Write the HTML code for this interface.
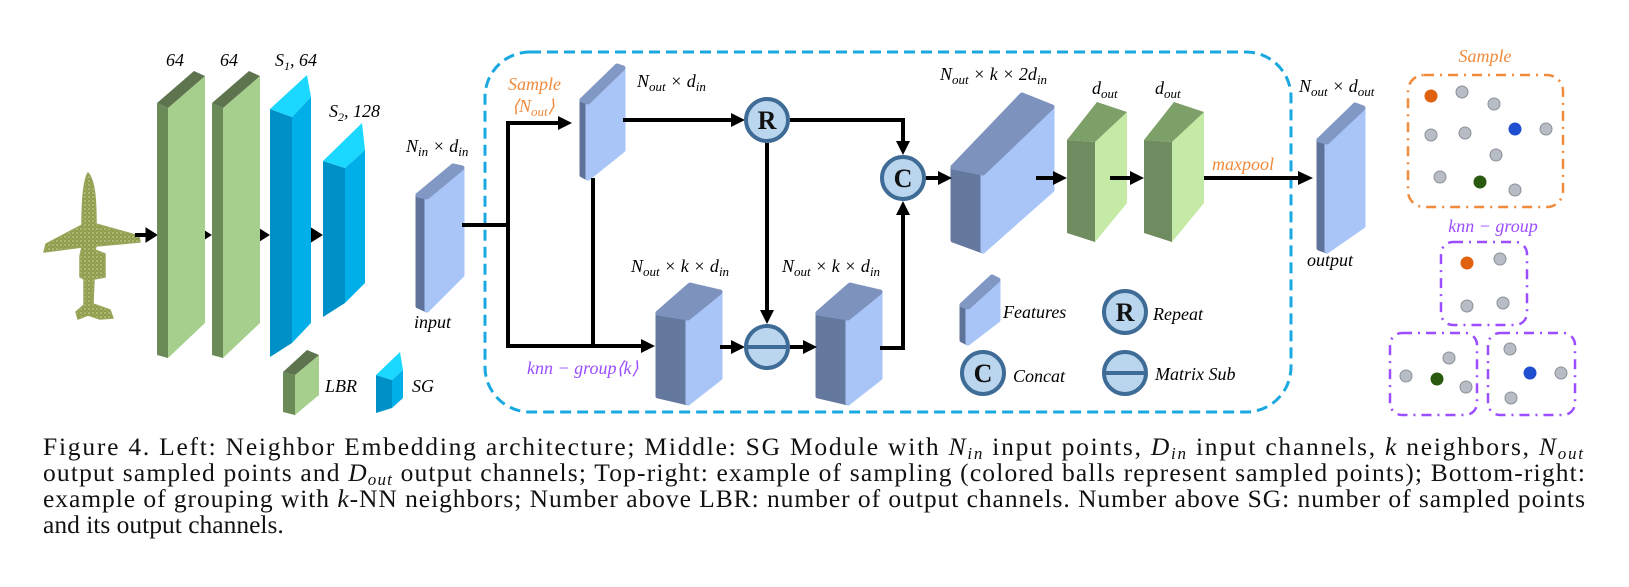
<!DOCTYPE html>
<html><head><meta charset="utf-8"><style>
html,body{margin:0;padding:0;background:#fff;}
svg{display:block;}
.m{font-family:"Liberation Serif",serif;font-style:italic;font-size:18px;fill:#000;}
.cap{font-family:"Liberation Serif",serif;font-size:25.5px;fill:#111;}
.ci{font-family:"Liberation Serif",serif;font-style:italic;}
</style></head><body>
<svg width="1629" height="587" viewBox="0 0 1629 587" xmlns="http://www.w3.org/2000/svg">
<defs>
<pattern id="dots" width="4" height="4" patternUnits="userSpaceOnUse">
<rect width="4" height="4" fill="#8e9c4c"/><circle cx="1" cy="1" r="0.9" fill="#c4cc94"/><circle cx="3" cy="3" r="0.6" fill="#b2bc7a"/>
</pattern>
</defs>

<g fill="url(#dots)" stroke="#9aa65c" stroke-width="1.5" stroke-linejoin="round">
<path d="M88,173 C84,180 82,195 82,225 L46,244 L44,252 L82,247 L80,256 L80,277 L84,279 L84,305 L76,312 L78,319 L88,315 L100,319 L113,318 L110,310 L93,304 L94,279 L105,277 L105,254 L95,250 L96,246 L140,242 L139,236 L96,224 C96,195 94,180 88,173 Z"/>
</g>

<g fill="#000" stroke="#000">
<line x1="135" y1="235" x2="148" y2="235" stroke-width="4"/><polygon points="146,228 157,235 146,242"/>
<line x1="188" y1="235" x2="202" y2="235" stroke-width="4"/><polygon points="200,228 211,235 200,242"/>
<line x1="245" y1="235" x2="260" y2="235" stroke-width="4"/><polygon points="258,228 269,235 258,242"/>
<line x1="300" y1="235" x2="313" y2="235" stroke-width="4"/><polygon points="311,228 322,235 311,242"/>
</g>

<g stroke-linejoin="round">
<polygon points="157,103 168,108 168,358 157,355" fill="#6a8a58"/>
<polygon points="168,108 205,76 205,323 168,358" fill="#a6cf8e"/>
<polygon points="157,103 194,71 205,76 168,108" fill="#5e744f"/>
<polygon points="212,103 223,108 223,358 212,355" fill="#6a8a58"/>
<polygon points="223,108 260,76 260,323 223,358" fill="#a6cf8e"/>
<polygon points="212,103 249,71 260,76 223,108" fill="#5e744f"/>
<polygon points="270,109 292,117 292,343 270,357" fill="#0090c8"/>
<polygon points="292,117 311,97 311,323 292,343" fill="#00aee8"/>
<polygon points="270,109 307,75 311,97 292,117" fill="#1ad8ff"/>
<polygon points="323,161 345,168 345,303 323,317" fill="#0090c8"/>
<polygon points="345,168 365,150 365,283 345,303" fill="#00aee8"/>
<polygon points="323,161 362,123 365,150 345,168" fill="#1ad8ff"/>
<polygon points="283,372 295,375 295,415 283,412" fill="#6a8a58"/>
<polygon points="295,375 319,355 319,395 295,415" fill="#a6cf8e"/>
<polygon points="283,372 307,350 319,355 295,375" fill="#5e744f"/>
<polygon points="376,375 392,380 392,408 376,413" fill="#0090c8"/>
<polygon points="392,380 403,370 403,398 392,408" fill="#00aee8"/>
<polygon points="376,375 400,352 403,370 392,380" fill="#1ad8ff"/>
</g>
<text class="m" x="166" y="66">64</text>
<text class="m" x="220" y="66">64</text>
<text class="m" x="275" y="66">S<tspan font-size="12" dy="4">1</tspan><tspan dy="-4">, 64</tspan></text>
<text class="m" x="329" y="117">S<tspan font-size="12" dy="4">2</tspan><tspan dy="-4">, 128</tspan></text>
<text class="m" x="325" y="392" font-size="20">LBR</text>
<text class="m" x="412" y="392" font-size="20">SG</text>

<rect x="485" y="52" width="806" height="360" rx="45" fill="none" stroke="#1aa8e0" stroke-width="3" stroke-dasharray="11 6"/>

<g stroke-linejoin="round" stroke-width="5">
<polygon points="418,195 427,197 427,310 418,306" fill="#5f7299" stroke="#5f7299"/>
<polygon points="427,197 462,168 462,275 427,310" fill="#a9c5f7" stroke="#a9c5f7"/>
<polygon points="418,195 453,166 462,168 427,197" fill="#8298c4" stroke="#8298c4"/>
<polygon points="582,100 588,102 588,178 582,175" fill="#5f7299" stroke="#5f7299"/>
<polygon points="588,102 623,68 623,150 588,178" fill="#a9c5f7" stroke="#a9c5f7"/>
<polygon points="582,100 617,66 623,68 588,102" fill="#8298c4" stroke="#8298c4"/>
<polygon points="658,313 688,318 688,403 658,396" fill="#65799f" stroke="#65799f"/>
<polygon points="688,318 720,292 720,378 688,403" fill="#a9c5f7" stroke="#a9c5f7"/>
<polygon points="658,313 690,285 720,292 688,318" fill="#7d92bd" stroke="#7d92bd"/>
<polygon points="818,313 848,318 848,403 818,396" fill="#65799f" stroke="#65799f"/>
<polygon points="848,318 880,292 880,378 848,403" fill="#a9c5f7" stroke="#a9c5f7"/>
<polygon points="818,313 850,285 880,292 848,318" fill="#7d92bd" stroke="#7d92bd"/>
<polygon points="953,167 983,173 983,251 953,240" fill="#65799f" stroke="#65799f"/>
<polygon points="983,173 1052,107 1052,190 983,251" fill="#a9c5f7" stroke="#a9c5f7"/>
<polygon points="953,167 1022,95 1052,107 983,173" fill="#7d92bd" stroke="#7d92bd"/>
<polygon points="1319,140 1327,142 1327,251 1319,248" fill="#5f7299" stroke="#5f7299"/>
<polygon points="1327,142 1363,108 1363,226 1327,251" fill="#a9c5f7" stroke="#a9c5f7"/>
<polygon points="1319,140 1355,105 1363,108 1327,142" fill="#8298c4" stroke="#8298c4"/>
<polygon points="962,305 968,307 968,343 962,340" fill="#5f7299" stroke="#5f7299"/>
<polygon points="968,307 998,280 998,320 968,343" fill="#a9c5f7" stroke="#a9c5f7"/>
<polygon points="962,305 992,277 998,280 968,307" fill="#8298c4" stroke="#8298c4"/>
</g>
<g>
<polygon points="1067,140 1095,142 1095,242 1067,233" fill="#6e8c5f"/>
<polygon points="1095,142 1127,112 1127,203 1095,242" fill="#c4eaa6"/>
<polygon points="1067,140 1097,102 1127,112 1095,142" fill="#7d9f68"/>
<polygon points="1144,140 1172,142 1172,242 1144,233" fill="#6e8c5f"/>
<polygon points="1172,142 1204,112 1204,203 1172,242" fill="#c4eaa6"/>
<polygon points="1144,140 1174,102 1204,112 1172,142" fill="#7d9f68"/>
</g>

<g stroke="#000" stroke-width="4" fill="none">
<polyline points="462,225 508,225"/>
<polyline points="560,123 508,123 508,346 643,346"/>
<line x1="593" y1="178" x2="593" y2="346"/>
<line x1="623" y1="120" x2="732" y2="120"/>
<polyline points="790,120 903,120 903,143"/>
<line x1="767" y1="143" x2="767" y2="312"/>
<line x1="720" y1="347" x2="733" y2="347"/>
<line x1="790" y1="347" x2="805" y2="347"/>
<polyline points="880,348 903,348 903,213"/>
<line x1="926" y1="178" x2="940" y2="178"/>
<line x1="1036" y1="178" x2="1055" y2="178"/>
<line x1="1110" y1="178" x2="1132" y2="178"/>
<line x1="1204" y1="178" x2="1300" y2="178"/>
</g>
<g fill="#000">
<polygon points="558,116 572,123 558,130"/>
<polygon points="641,339 655,346 641,353"/>
<polygon points="731,113 745,120 731,127"/>
<polygon points="896,141 903,155 910,141"/>
<polygon points="760,310 767,324 774,310"/>
<polygon points="731,340 745,347 731,354"/>
<polygon points="803,340 817,347 803,354"/>
<polygon points="896,215 903,201 910,215"/>
<polygon points="938,171 952,178 938,185"/>
<polygon points="1053,171 1067,178 1053,185"/>
<polygon points="1130,171 1144,178 1130,185"/>
<polygon points="1298,171 1313,178 1298,185"/>
</g>

<g fill="#bad5ee" stroke="#3f6b97" stroke-width="4">
<circle cx="767" cy="120" r="21"/>
<circle cx="903" cy="178" r="21"/>
<circle cx="767" cy="347" r="21"/>
<circle cx="1125" cy="312" r="21"/>
<circle cx="983" cy="373" r="21"/>
<circle cx="1125" cy="373" r="21"/>
<line x1="746" y1="347" x2="788" y2="347"/>
<line x1="1104" y1="373" x2="1146" y2="373"/>
</g>
<g font-family="Liberation Serif, serif" font-weight="bold" font-size="26" text-anchor="middle" fill="#111">
<text x="767" y="129">R</text>
<text x="903" y="187">C</text>
<text x="1125" y="321">R</text>
<text x="983" y="382">C</text>
</g>

<text class="m" x="508" y="90" style="fill:#f08a3c" font-size="20">Sample</text>
<text class="m" x="512" y="112" style="fill:#f08a3c" font-size="20">⟨N<tspan font-size="13" dy="4">out</tspan><tspan dy="-4">⟩</tspan></text>
<text class="m" x="637" y="87" font-size="19">N<tspan font-size="13" dy="4">out</tspan><tspan dy="-4"> × d</tspan><tspan font-size="13" dy="4">in</tspan></text>
<text class="m" x="631" y="272" font-size="19">N<tspan font-size="13" dy="4">out</tspan><tspan dy="-4"> × k × d</tspan><tspan font-size="13" dy="4">in</tspan></text>
<text class="m" x="782" y="272" font-size="19">N<tspan font-size="13" dy="4">out</tspan><tspan dy="-4"> × k × d</tspan><tspan font-size="13" dy="4">in</tspan></text>
<text class="m" x="527" y="374" style="fill:#9b4dff" font-size="19">knn − group⟨k⟩</text>
<text class="m" x="940" y="80" font-size="19">N<tspan font-size="13" dy="4">out</tspan><tspan dy="-4"> × k × 2d</tspan><tspan font-size="13" dy="4">in</tspan></text>
<text class="m" x="1092" y="94" font-size="19">d<tspan font-size="13" dy="4">out</tspan></text>
<text class="m" x="1155" y="94" font-size="19">d<tspan font-size="13" dy="4">out</tspan></text>
<text class="m" x="1212" y="170" style="fill:#f08a3c" font-size="19">maxpool</text>
<text class="m" x="1003" y="318" font-size="20">Features</text>
<text class="m" x="1153" y="320" font-size="20">Repeat</text>
<text class="m" x="1013" y="382" font-size="20">Concat</text>
<text class="m" x="1155" y="380" font-size="20">Matrix Sub</text>
<text class="m" x="406" y="152" font-size="19">N<tspan font-size="13" dy="4">in</tspan><tspan dy="-4"> × d</tspan><tspan font-size="13" dy="4">in</tspan></text>
<text class="m" x="414" y="328" font-size="19">input</text>
<text class="m" x="1299" y="92" font-size="19">N<tspan font-size="13" dy="4">out</tspan><tspan dy="-4"> × d</tspan><tspan font-size="13" dy="4">out</tspan></text>
<text class="m" x="1307" y="266" font-size="19">output</text>

<text class="m" x="1485" y="62" text-anchor="middle" style="fill:#f08a3c" font-size="19">Sample</text>
<rect x="1408" y="75" width="155" height="132" rx="16" fill="none" stroke="#f08a3c" stroke-width="2.5" stroke-dasharray="10 6 2 6"/>
<text class="m" x="1493" y="232" text-anchor="middle" style="fill:#9b4dff" font-size="19">knn − group</text>
<g fill="none" stroke="#9b4dff" stroke-width="2.5" stroke-dasharray="10 6 2 6">
<rect x="1441" y="242" width="86" height="83" rx="12"/>
<rect x="1390" y="333" width="87" height="82" rx="12"/>
<rect x="1488" y="333" width="87" height="82" rx="12"/>
</g>
<g fill="#b8bcc4" stroke="#8c9099" stroke-width="1">
<circle cx="1462" cy="92" r="6"/><circle cx="1494" cy="104" r="6"/><circle cx="1431" cy="135" r="6"/>
<circle cx="1465" cy="133" r="6"/><circle cx="1546" cy="129" r="6"/><circle cx="1496" cy="155" r="6"/>
<circle cx="1440" cy="177" r="6"/><circle cx="1515" cy="190" r="6"/>
<circle cx="1500" cy="259" r="6"/><circle cx="1467" cy="306" r="6"/><circle cx="1503" cy="303" r="6"/>
<circle cx="1449" cy="358" r="6"/><circle cx="1406" cy="376" r="6"/><circle cx="1466" cy="387" r="6"/>
<circle cx="1510" cy="349" r="6"/><circle cx="1561" cy="373" r="6"/><circle cx="1511" cy="398" r="6"/>
</g>
<g>
<circle cx="1431" cy="96" r="6.5" fill="#e0620e"/><circle cx="1467" cy="263" r="6.5" fill="#e0620e"/>
<circle cx="1515" cy="129" r="6.5" fill="#1f4fd0"/><circle cx="1530" cy="373" r="6.5" fill="#1f4fd0"/>
<circle cx="1480" cy="182" r="6.5" fill="#2a5a10"/><circle cx="1437" cy="379" r="6.5" fill="#2a5a10"/>
</g>

<text class="cap" x="43" y="455" textLength="1540" lengthAdjust="spacing">Figure 4.   Left: Neighbor Embedding architecture; Middle: SG Module with <tspan class="ci">N</tspan><tspan class="ci" font-size="17" dy="4">in</tspan><tspan dy="-4"> input points, </tspan><tspan class="ci">D</tspan><tspan class="ci" font-size="17" dy="4">in</tspan><tspan dy="-4"> input channels, </tspan><tspan class="ci">k</tspan> neighbors, <tspan class="ci">N</tspan><tspan class="ci" font-size="17" dy="4">out</tspan></text>
<text class="cap" x="43" y="481" textLength="1542" lengthAdjust="spacing">output sampled points and <tspan class="ci">D</tspan><tspan class="ci" font-size="17" dy="4">out</tspan><tspan dy="-4"> output channels; Top-right: example of sampling (colored balls represent sampled points); Bottom-right:</tspan></text>
<text class="cap" x="43" y="507" textLength="1542" lengthAdjust="spacing">example of grouping with <tspan class="ci">k</tspan>-NN neighbors; Number above LBR: number of output channels. Number above SG: number of sampled points</text>
<text class="cap" x="43" y="533">and its output channels.</text>
</svg>
</body></html>
